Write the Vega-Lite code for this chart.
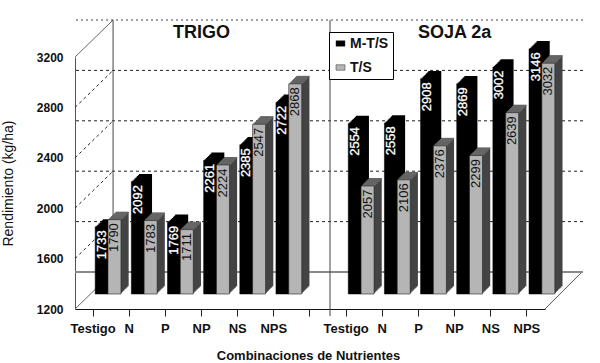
{
"$schema":"https://vega.github.io/schema/vega-lite/v6.json",
"width":470,"height":252,
"autosize":"none",
"padding":{"left":75,"top":57,"right":55,"bottom":54},
"background":"white",
"config":{"view":{"stroke":null}},
"datasets":{
"rend":[
{"combo":"TRIGO|Testigo","serie":"M-T/S","valor":1733},{"combo":"TRIGO|Testigo","serie":"T/S","valor":1790},
{"combo":"TRIGO|N","serie":"M-T/S","valor":2092},{"combo":"TRIGO|N","serie":"T/S","valor":1783},
{"combo":"TRIGO|P","serie":"M-T/S","valor":1769},{"combo":"TRIGO|P","serie":"T/S","valor":1711},
{"combo":"TRIGO|NP","serie":"M-T/S","valor":2261},{"combo":"TRIGO|NP","serie":"T/S","valor":2224},
{"combo":"TRIGO|NS","serie":"M-T/S","valor":2385},{"combo":"TRIGO|NS","serie":"T/S","valor":2547},
{"combo":"TRIGO|NPS","serie":"M-T/S","valor":2722},{"combo":"TRIGO|NPS","serie":"T/S","valor":2868},
{"combo":"SOJA|Testigo","serie":"M-T/S","valor":2554},{"combo":"SOJA|Testigo","serie":"T/S","valor":2057},
{"combo":"SOJA|N","serie":"M-T/S","valor":2558},{"combo":"SOJA|N","serie":"T/S","valor":2106},
{"combo":"SOJA|P","serie":"M-T/S","valor":2908},{"combo":"SOJA|P","serie":"T/S","valor":2376},
{"combo":"SOJA|NP","serie":"M-T/S","valor":2869},{"combo":"SOJA|NP","serie":"T/S","valor":2299},
{"combo":"SOJA|NS","serie":"M-T/S","valor":3002},{"combo":"SOJA|NS","serie":"T/S","valor":2639},
{"combo":"SOJA|NPS","serie":"M-T/S","valor":3146},{"combo":"SOJA|NPS","serie":"T/S","valor":3032}
],
"grid":[{"v":1600},{"v":2000},{"v":2400},{"v":2800}],
"borde":[{"v":1200},{"v":3200}],
"titulos":[{"combo":"TRIGO|NP","t":"TRIGO","v":3200},{"combo":"SOJA|NP","t":"SOJA 2a","v":3200}]
},
"layer":[
{"data":{"name":"grid"},
 "mark":{"type":"rule","color":"#222","strokeWidth":1,"strokeDash":[3,3],"xOffset":38,"yOffset":-37},
 "encoding":{"y":{"field":"v","type":"quantitative","scale":{"domain":[1200,3200],"nice":false,"zero":false},
   "axis":{"values":[1200,1600,2000,2400,2800,3200],"ticks":false,"grid":false,"domainColor":"#555","domainWidth":1,"labelFont":"Liberation Sans","labelFontWeight":"bold","labelFontSize":12,"labelColor":"#111","labelPadding":12,"title":"Rendimiento (kg/ha)","titleFont":"Liberation Sans","titleFontWeight":"normal","titleFontSize":14,"titleColor":"#111","titlePadding":21,"format":"d"}}}},
{"data":{"name":"grid"},
 "mark":{"type":"rule","color":"#222","strokeWidth":1,"strokeDash":[3,3],"xOffset":-18,"x2Offset":20,"y2Offset":-37},
 "encoding":{"x":{"datum":"TRIGO|Testigo","type":"nominal","scale":{"type":"band","domain":["TRIGO|Testigo","TRIGO|N","TRIGO|P","TRIGO|NP","TRIGO|NS","TRIGO|NPS"," ","SOJA|Testigo","SOJA|N","SOJA|P","SOJA|NP","SOJA|NS","SOJA|NPS"],"paddingInner":0,"paddingOuter":0},
   "axis":{"title":"Combinaciones de Nutrientes","labelExpr":"indexof(datum.label,'|')>=0 ? split(datum.label,'|')[1] : ''","labelAngle":0,"labelFont":"Liberation Sans","labelFontWeight":"bold","labelFontSize":13,"labelColor":"#111","labelPadding":6,"tickSize":7,"tickColor":"#222","domainColor":"#111","domainWidth":1,"grid":false,"titleFont":"Liberation Sans","titleFontWeight":"bold","titleFontSize":13,"titleColor":"#111","titlePadding":14,"titleX":233}},
  "x2":{"datum":"TRIGO|Testigo"},
  "y":{"field":"v","type":"quantitative"},"y2":{"field":"v"}}},
{"data":{"name":"borde"},
 "mark":{"type":"rule","color":"#666","strokeWidth":1,"xOffset":-18,"x2Offset":20,"y2Offset":-37},
 "encoding":{"x":{"datum":"TRIGO|Testigo","type":"nominal","scale":{"type":"band"}},"x2":{"datum":"TRIGO|Testigo"},"y":{"field":"v","type":"quantitative"},"y2":{"field":"v"}}},
{"data":{"name":"borde"},
 "transform":[{"filter":{"field":"v","equal":1200}}],
 "mark":{"type":"rule","color":"#555","strokeWidth":1,"xOffset":18,"x2Offset":55,"y2Offset":-37},
 "encoding":{"x":{"datum":"SOJA|NPS","type":"nominal","scale":{"type":"band"}},"x2":{"datum":"SOJA|NPS"},"y":{"field":"v","type":"quantitative"},"y2":{"field":"v"}}},
{"data":{"name":"borde"},
 "transform":[{"filter":{"field":"v","equal":1200}}],
 "mark":{"type":"rule","color":"#8a8a8a","strokeWidth":2,"xOffset":38,"yOffset":-37},
 "encoding":{"y":{"field":"v","type":"quantitative"}}},
{"data":{"name":"borde"},
 "transform":[{"filter":{"field":"v","equal":3200}}],
 "mark":{"type":"rule","color":"#444","strokeWidth":1,"strokeDash":[2,3],"xOffset":38,"yOffset":-37},
 "encoding":{"y":{"field":"v","type":"quantitative"}}},
{"data":{"values":[{"a":3200,"b":1200}]},
 "mark":{"type":"rule","color":"#444","strokeWidth":1,"xOffset":20,"yOffset":-37,"y2Offset":-37},
 "encoding":{"x":{"datum":"TRIGO|Testigo","type":"nominal","scale":{"type":"band"}},"y":{"field":"a","type":"quantitative"},"y2":{"field":"b"}}},
{"data":{"values":[{"a":3200,"b":1200}]},
 "mark":{"type":"rule","color":"#444","strokeWidth":1,"xOffset":20,"yOffset":-37,"y2Offset":7},
 "encoding":{"x":{"datum":" ","type":"nominal","scale":{"type":"band"}},"y":{"field":"a","type":"quantitative"},"y2":{"field":"b"}}},
{"data":{"name":"rend"},
 "transform":[{"filter":{"field":"serie","equal":"M-T/S"}}],
 "encoding":{"x":{"field":"combo","type":"nominal","scale":{"type":"band"}},"y":{"field":"valor","type":"quantitative"},"y2":{"datum":1200}},
 "layer":[
 {"mark":{"type":"bar","width":13,"fill":"#000","xOffset":16.3,"yOffset":-22.7,"y2Offset":-22.7}},
 {"mark":{"type":"bar","width":13,"fill":"#000","xOffset":15.2,"yOffset":-21.6,"y2Offset":-21.6}},
 {"mark":{"type":"bar","width":13,"fill":"#000","xOffset":14.1,"yOffset":-20.5,"y2Offset":-20.5}},
 {"mark":{"type":"bar","width":13,"fill":"#000","xOffset":13,"yOffset":-19.4,"y2Offset":-19.4}},
 {"mark":{"type":"bar","width":13,"fill":"#000","xOffset":11.9,"yOffset":-18.3,"y2Offset":-18.3}},
 {"mark":{"type":"bar","width":13,"fill":"#000","xOffset":10.8,"yOffset":-17.2,"y2Offset":-17.2}},
 {"mark":{"type":"bar","width":13,"fill":"#000","xOffset":9.7,"yOffset":-16.1,"y2Offset":-16.1}},
 {"mark":{"type":"bar","width":13,"xOffset":8.6,"yOffset":-15,"y2Offset":-15,"stroke":"#000","strokeWidth":0.5},
  "encoding":{"color":{"field":"serie","type":"nominal","scale":{"domain":["M-T/S","T/S"],"range":["#000000","#b5b5b5"]},
   "legend":{"orient":"none","legendX":254,"legendY":-25,"title":null,"fillColor":"white","strokeColor":"#000","padding":4,"symbolType":"M-0.65,-0.4H0.65V0.4H-0.65Z","symbolSize":190,"symbolStrokeColor":"#333","symbolStrokeWidth":0.5,"labelFont":"Liberation Sans","labelFontWeight":"bold","labelFontSize":14,"labelColor":"#111","rowPadding":9,"labelOffset":2}}}}
 ]},
{"data":{"name":"rend"},
 "transform":[{"filter":{"field":"serie","equal":"T/S"}}],
 "encoding":{"x":{"field":"combo","type":"nominal","scale":{"type":"band"}},"y":{"field":"valor","type":"quantitative"}},
 "layer":[
 {"encoding":{"y2":{"datum":1200}},
  "layer":[
  {"mark":{"type":"bar","width":13,"fill":"#444","xOffset":29.1,"yOffset":-22.7,"y2Offset":-22.7}},
  {"mark":{"type":"bar","width":13,"fill":"#444","xOffset":28,"yOffset":-21.6,"y2Offset":-21.6}},
  {"mark":{"type":"bar","width":13,"fill":"#444","xOffset":26.9,"yOffset":-20.5,"y2Offset":-20.5}},
  {"mark":{"type":"bar","width":13,"fill":"#444","xOffset":25.8,"yOffset":-19.4,"y2Offset":-19.4}},
  {"mark":{"type":"bar","width":13,"fill":"#444","xOffset":24.7,"yOffset":-18.3,"y2Offset":-18.3}},
  {"mark":{"type":"bar","width":13,"fill":"#444","xOffset":23.6,"yOffset":-17.2,"y2Offset":-17.2}},
  {"mark":{"type":"bar","width":13,"fill":"#444","xOffset":22.5,"yOffset":-16.1,"y2Offset":-16.1}}
  ]},
 {"mark":{"type":"tick","orient":"horizontal","size":13,"thickness":1.6,"color":"#666","opacity":1,"xOffset":29.1,"yOffset":-22.2}},
 {"mark":{"type":"tick","orient":"horizontal","size":13,"thickness":1.6,"color":"#666","opacity":1,"xOffset":28,"yOffset":-21.1}},
 {"mark":{"type":"tick","orient":"horizontal","size":13,"thickness":1.6,"color":"#666","opacity":1,"xOffset":26.9,"yOffset":-20}},
 {"mark":{"type":"tick","orient":"horizontal","size":13,"thickness":1.6,"color":"#666","opacity":1,"xOffset":25.8,"yOffset":-18.9}},
 {"mark":{"type":"tick","orient":"horizontal","size":13,"thickness":1.6,"color":"#666","opacity":1,"xOffset":24.7,"yOffset":-17.8}},
 {"mark":{"type":"tick","orient":"horizontal","size":13,"thickness":1.6,"color":"#666","opacity":1,"xOffset":23.6,"yOffset":-16.7}},
 {"mark":{"type":"tick","orient":"horizontal","size":13,"thickness":1.6,"color":"#666","opacity":1,"xOffset":22.5,"yOffset":-15.6}},
 {"mark":{"type":"bar","width":13,"xOffset":21.4,"yOffset":-15,"y2Offset":-15,"stroke":"#222","strokeWidth":0.6},
  "encoding":{"y2":{"datum":1200},"color":{"field":"serie","type":"nominal","scale":{"domain":["M-T/S","T/S"],"range":["#000000","#b5b5b5"]},
   "legend":{"orient":"none","legendX":254,"legendY":-25,"title":null,"fillColor":"white","strokeColor":"#000","padding":4,"symbolType":"M-0.65,-0.4H0.65V0.4H-0.65Z","symbolSize":190,"symbolStrokeColor":"#333","symbolStrokeWidth":0.5,"labelFont":"Liberation Sans","labelFontWeight":"bold","labelFontSize":14,"labelColor":"#111","rowPadding":9,"labelOffset":2}}}}
 ]},
{"data":{"name":"rend"},
 "transform":[{"filter":{"field":"serie","equal":"M-T/S"}}],
 "mark":{"type":"text","angle":270,"align":"right","baseline":"middle","font":"Liberation Sans","fontSize":13,"color":"white","stroke":"white","strokeWidth":0.3,"xOffset":8.6,"yOffset":-11.5},
 "encoding":{"x":{"field":"combo","type":"nominal","scale":{"type":"band"}},"y":{"field":"valor","type":"quantitative"},"text":{"field":"valor","type":"quantitative","format":"d"}}},
{"data":{"name":"rend"},
 "transform":[{"filter":{"field":"serie","equal":"T/S"}}],
 "mark":{"type":"text","angle":270,"align":"right","baseline":"middle","font":"Liberation Sans","fontSize":13,"color":"#111","xOffset":21.4,"yOffset":-11.5},
 "encoding":{"x":{"field":"combo","type":"nominal","scale":{"type":"band"}},"y":{"field":"valor","type":"quantitative"},"text":{"field":"valor","type":"quantitative","format":"d"}}},
{"data":{"name":"titulos"},
 "mark":{"type":"text","font":"Liberation Sans","fontWeight":"bold","fontSize":18,"color":"#111","yOffset":-24},
 "encoding":{"x":{"field":"combo","type":"nominal","scale":{"type":"band"}},"y":{"field":"v","type":"quantitative"},"text":{"field":"t","type":"nominal"}}}
]
}
